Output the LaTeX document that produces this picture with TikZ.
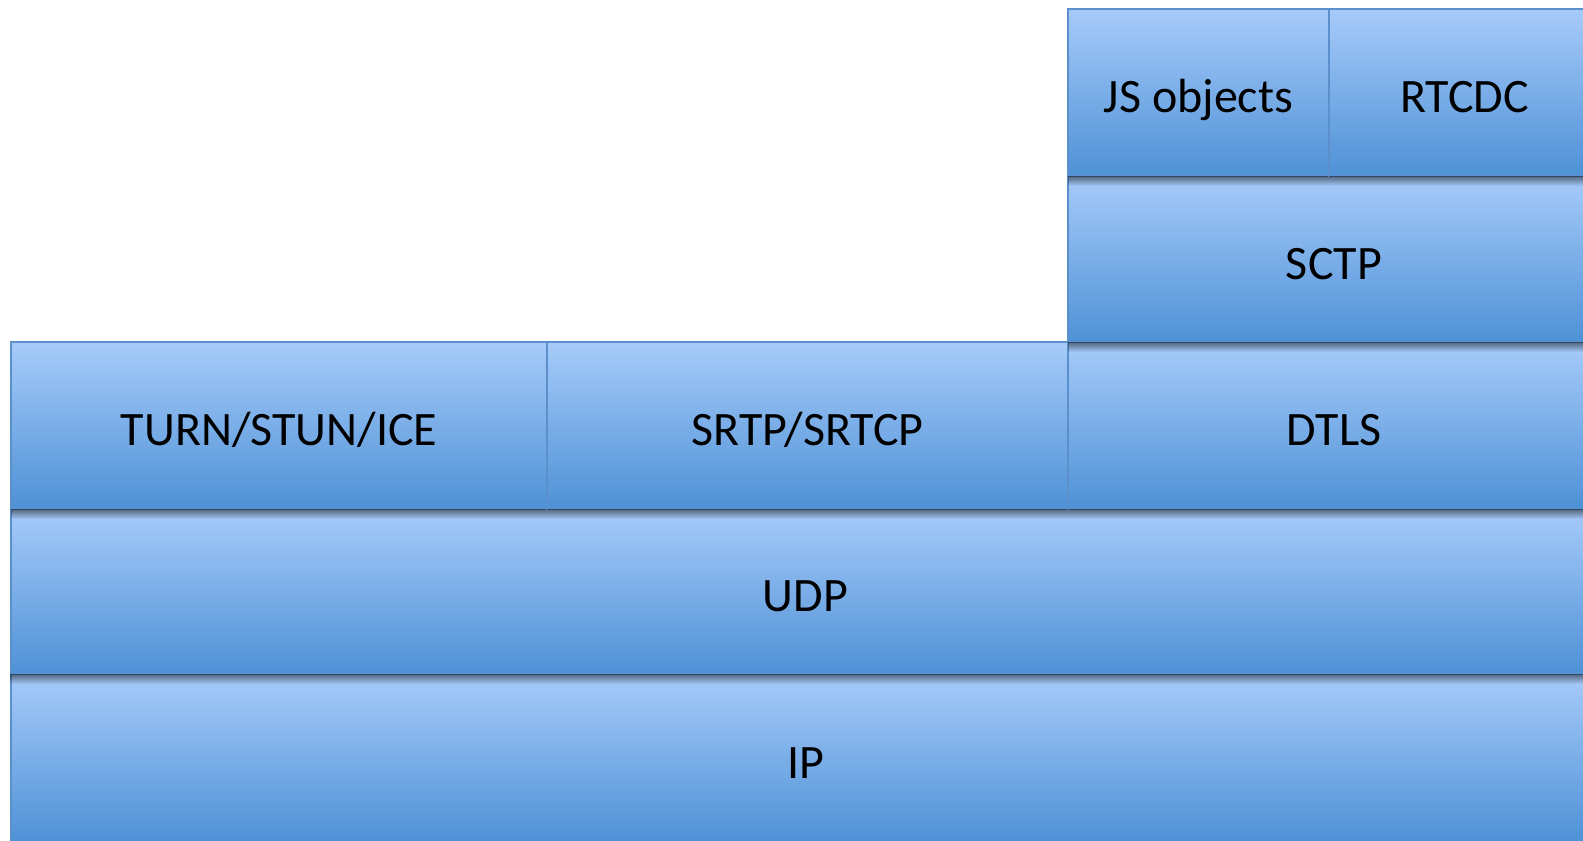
\documentclass[tikz,border=0pt]{standalone}
\usepackage{fontspec}
\setmainfont{Carlito}
\usetikzlibrary{fadings}

\definecolor{layertop}{HTML}{A7CBFA}
\definecolor{layerbot}{HTML}{4E91D6}
\definecolor{layeredge}{HTML}{5B90CC}

% soft drop shadow below each layer
\tikzfading[name=dropfade, top color=transparent!50, bottom color=transparent!100]

\tikzset{
  layer/.style={draw=layeredge, line width=1.1pt,
    top color=layertop, bottom color=layerbot,
    inner sep=0pt, outer sep=0pt, anchor=north west,
    font=\fontsize{36pt}{42pt}\selectfont,
    text height=35.2pt, text depth=4.6pt},
  dropshadow/.style={fill=black, path fading=dropfade}
}

% \stacklayer{name}{left}{top}{right}{bottom}{label}   (pixel units)
\newcommand\stacklayer[6]{%
  \node[layer, minimum width={(#4-#2)*0.75pt}, minimum height={(#5-#3)*0.75pt}]
    (#1) at (#2,#3) {#6};
  \fill[dropshadow] (#2,#5) rectangle (#4,#5+10);
}

\begin{document}
\begin{tikzpicture}[x=0.75pt, y=-0.75pt]
  \useasboundingbox (0,0) rectangle (1583,840);

  \stacklayer{ip}{11}{674}{1600}{842}{IP}
  \stacklayer{udp}{11}{509}{1600}{674}{UDP}
  \stacklayer{turn}{11}{342}{547}{509}{TURN/STUN/ICE}
  \stacklayer{srtp}{547}{342}{1068}{509}{SRTP/SRTCP}
  \stacklayer{dtls}{1068}{342}{1600}{509}{DTLS}
  \stacklayer{sctp}{1068}{176}{1600}{342}{SCTP}
  \stacklayer{js}{1068}{9}{1329}{176}{JS objects}
  \stacklayer{rtcdc}{1329}{9}{1600}{176}{RTCDC}
\end{tikzpicture}
\end{document}
